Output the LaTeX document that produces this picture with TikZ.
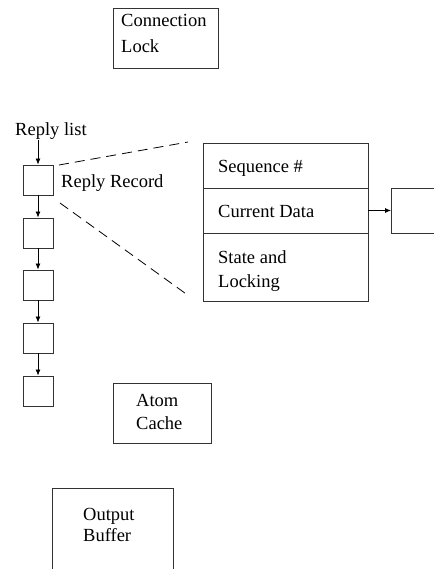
\documentclass[tikz,border=0pt]{standalone}
\usepackage{fontspec}
\setmainfont{Liberation Serif}
\usetikzlibrary{arrows.meta}
\begin{document}
\begin{tikzpicture}[x=1pt,y=-1pt,
  box/.style={draw=black!80,line width=0.9pt,rectangle,inner sep=0pt},
  lbl/.style={anchor=base west,inner sep=0pt,font=\fontsize{18.5}{23}\selectfont},
  arr/.style={draw=black,line width=0.8pt,-{Latex[length=6pt,width=5pt]}},
  dsh/.style={draw=black,line width=0.8pt,dash pattern=on 10pt off 6pt}]
\useasboundingbox (0,0) rectangle (433,569);
% Connection Lock
\node[box,minimum width=105pt,minimum height=60pt] (conn) at (165.5,38) {};
\node[lbl] (connT) at (121,27) {Connection};
\node[lbl] (lockT) at (121,53) {Lock};
% Reply list
\node[lbl] (rl) at (15,136) {Reply list};
\coordinate (rlb) at (38,140);
\node[box,minimum width=30pt,minimum height=30pt] (r1) at (38,180) {};
\node[box,minimum width=30pt,minimum height=30pt] (r2) at (38,233) {};
\node[box,minimum width=30pt,minimum height=30pt] (r3) at (38,285) {};
\node[box,minimum width=30pt,minimum height=30pt] (r4) at (38,338) {};
\node[box,minimum width=30pt,minimum height=30pt] (r5) at (38,391) {};
\draw[arr] (rlb) -- (r1.north);
\draw[arr] (r1) -- (r2);
\draw[arr] (r2) -- (r3);
\draw[arr] (r3) -- (r4);
\draw[arr] (r4) -- (r5);
\node[lbl] (rr) at (61,187) {Reply Record};
% Record structure
\node[box,minimum width=165pt,minimum height=45pt] (seq) at (285.5,165.5) {};
\node[box,minimum width=165pt,minimum height=45pt] (cur) at (285.5,210.5) {};
\node[box,minimum width=165pt,minimum height=68pt] (st) at (285.5,267) {};
\node[lbl] (seqT) at (218,173) {Sequence \#};
\node[lbl] (curT) at (218,217) {Current Data};
\node[lbl] (stT) at (218,263) {State and};
\node[lbl] (lkT) at (218,287) {Locking};
\coordinate (d1) at (59,165);
\coordinate (d2) at (60,203);
\coordinate (e1) at (188,142);
\coordinate (e2) at (189,296);
\draw[dsh] (d1) -- (e1);
\draw[dsh] (d2) -- (e2);
% Data box (cut off at right)
\coordinate (db1) at (434,188);
\coordinate (db2) at (434,233);
\draw[draw=black!80,line width=0.9pt] (db1) -- (391,188) coordinate (dbtl) -- (391,233) coordinate (dbbl) -- (db2);
\coordinate (dbm) at (391,210.5);
\draw[arr] (cur.east) -- (dbm);
% Atom Cache
\node[box,minimum width=98pt,minimum height=60pt] (atom) at (162,413) {};
\node[lbl] (atomT) at (136,406) {Atom};
\node[lbl] (cacheT) at (136,429) {Cache};
% Output Buffer (cut off at bottom)
\draw[draw=black!80,line width=0.9pt] (52,570) coordinate (ob1) -- (52,488) coordinate (ob2) -- (173,488) coordinate (ob3) -- (173,570) coordinate (ob4);
\node[lbl] (outT) at (83,520) {Output};
\node[lbl] (bufT) at (83,541) {Buffer};
\end{tikzpicture}
\end{document}
